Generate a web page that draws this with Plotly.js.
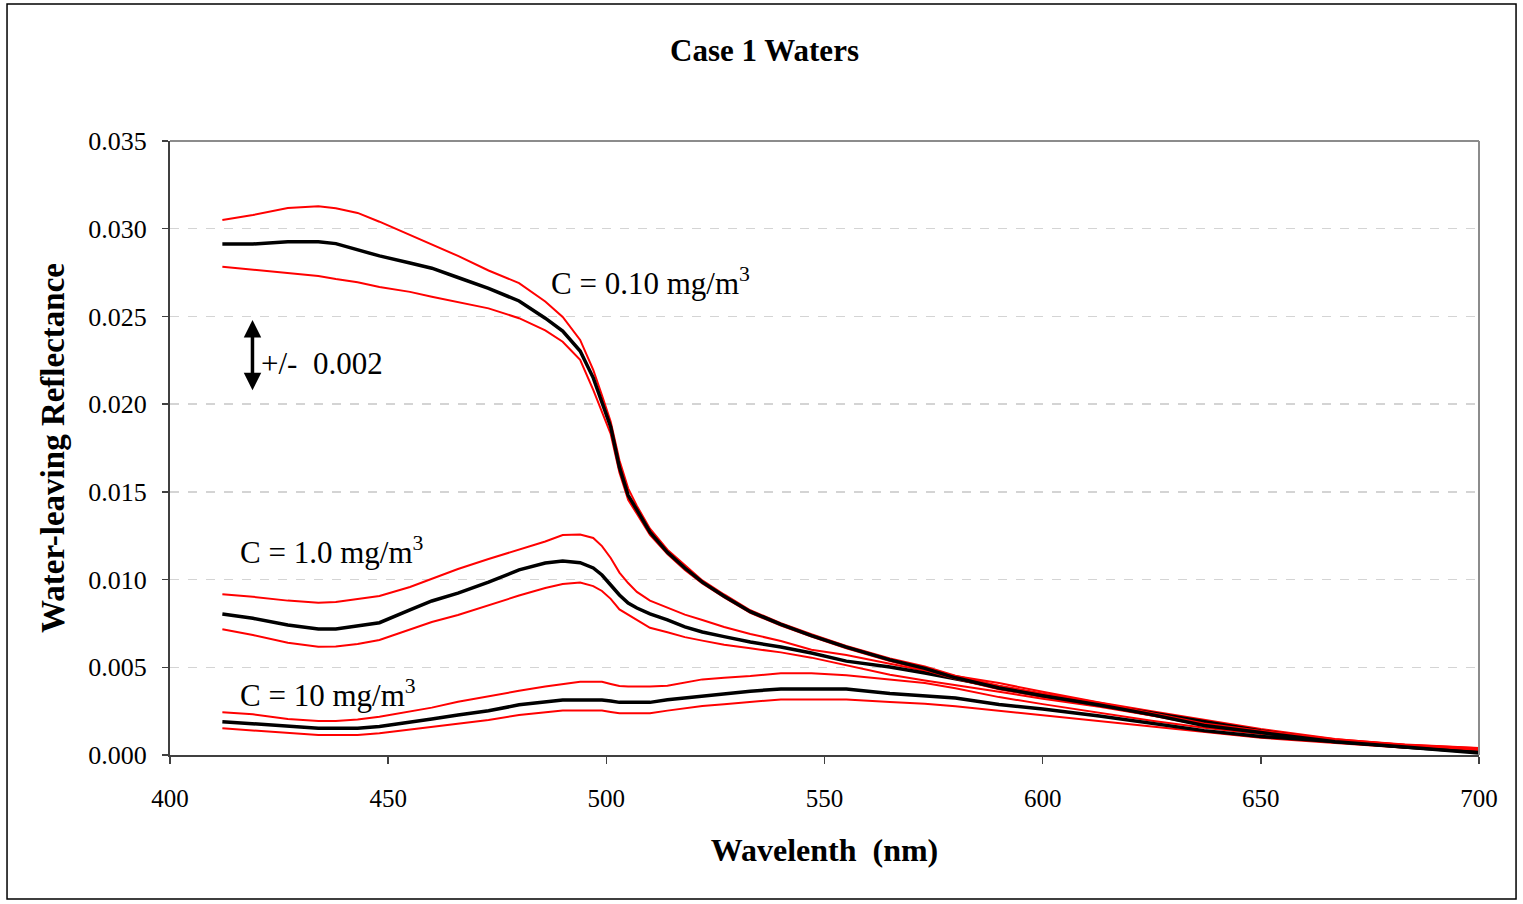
<!DOCTYPE html>
<html>
<head>
<meta charset="utf-8">
<script src="https://cdn.plot.ly/plotly-3.0.1.min.js"></script>
<style>html,body{margin:0;padding:0;background:#fff;}#chart{width:1523px;height:904px;}</style>
</head>
<body>
<div id="chart"></div>
<script>
// Wavelength grid (nm)
const wavelength = [412, 419, 427, 434, 438, 443, 448, 455, 460, 466, 473, 480, 486, 490, 494, 497, 499, 501, 503, 505, 507, 510, 514, 518, 522, 527, 533, 540, 547, 555, 565, 573, 580, 590, 600, 613, 625, 637, 650, 667, 683, 700];

// C = 0.10 mg/m3
const c010_mean = [0.02913, 0.02913, 0.02926, 0.02926, 0.02915, 0.02880, 0.02845, 0.02805, 0.02775, 0.02722, 0.02660, 0.02588, 0.02490, 0.02417, 0.02303, 0.02150, 0.02006, 0.01870, 0.01640, 0.01480, 0.01397, 0.01270, 0.01155, 0.01066, 0.00985, 0.00905, 0.00817, 0.00745, 0.00680, 0.00615, 0.00542, 0.00494, 0.00440, 0.00382, 0.00338, 0.00285, 0.00230, 0.00168, 0.00128, 0.00076, 0.00045, 0.00012];
const c010_upper = [0.03050, 0.03078, 0.03118, 0.03128, 0.03116, 0.03090, 0.03040, 0.02965, 0.02910, 0.02845, 0.02762, 0.02690, 0.02585, 0.02497, 0.02366, 0.02195, 0.02050, 0.01900, 0.01680, 0.01520, 0.01420, 0.01290, 0.01170, 0.01080, 0.00995, 0.00915, 0.00825, 0.00752, 0.00688, 0.00622, 0.00550, 0.00505, 0.00452, 0.00395, 0.00350, 0.00298, 0.00240, 0.00180, 0.00138, 0.00090, 0.00060, 0.00040];
const c010_lower = [0.02783, 0.02765, 0.02748, 0.02730, 0.02713, 0.02695, 0.02668, 0.02640, 0.02612, 0.02580, 0.02546, 0.02490, 0.02420, 0.02356, 0.02252, 0.02081, 0.01960, 0.01830, 0.01610, 0.01455, 0.01375, 0.01255, 0.01145, 0.01055, 0.00978, 0.00898, 0.00810, 0.00738, 0.00675, 0.00608, 0.00535, 0.00485, 0.00435, 0.00375, 0.00330, 0.00282, 0.00225, 0.00168, 0.00130, 0.00085, 0.00055, 0.00030];

// C = 1.0 mg/m3
const c1_mean = [0.00804, 0.00779, 0.00741, 0.00718, 0.00718, 0.00735, 0.00754, 0.00827, 0.00878, 0.00923, 0.00986, 0.01055, 0.01094, 0.01106, 0.01096, 0.01066, 0.01026, 0.00969, 0.00912, 0.00866, 0.00838, 0.00804, 0.00770, 0.00730, 0.00701, 0.00675, 0.00644, 0.00616, 0.00581, 0.00535, 0.00502, 0.00467, 0.00433, 0.00388, 0.00342, 0.00285, 0.00239, 0.00188, 0.00137, 0.00080, 0.00046, 0.00017];
const c1_upper = [0.00916, 0.00902, 0.00880, 0.00868, 0.00872, 0.00889, 0.00906, 0.00958, 0.01003, 0.01060, 0.01117, 0.01169, 0.01217, 0.01254, 0.01257, 0.01237, 0.01191, 0.01123, 0.01040, 0.00980, 0.00930, 0.00880, 0.00840, 0.00800, 0.00770, 0.00730, 0.00690, 0.00650, 0.00600, 0.00570, 0.00520, 0.00480, 0.00450, 0.00410, 0.00360, 0.00300, 0.00250, 0.00200, 0.00148, 0.00091, 0.00057, 0.00034];
const c1_lower = [0.00717, 0.00684, 0.00640, 0.00617, 0.00618, 0.00633, 0.00656, 0.00713, 0.00758, 0.00798, 0.00855, 0.00909, 0.00952, 0.00975, 0.00983, 0.00963, 0.00935, 0.00890, 0.00830, 0.00800, 0.00770, 0.00725, 0.00700, 0.00672, 0.00652, 0.00628, 0.00608, 0.00585, 0.00555, 0.00510, 0.00458, 0.00425, 0.00400, 0.00361, 0.00320, 0.00275, 0.00225, 0.00180, 0.00132, 0.00085, 0.00055, 0.00035];

// C = 10 mg/m3
const c10_mean = [0.00190, 0.00177, 0.00161, 0.00152, 0.00152, 0.00152, 0.00162, 0.00185, 0.00205, 0.00228, 0.00252, 0.00286, 0.00305, 0.00314, 0.00314, 0.00314, 0.00314, 0.00308, 0.00300, 0.00300, 0.00300, 0.00300, 0.00315, 0.00326, 0.00337, 0.00350, 0.00364, 0.00376, 0.00376, 0.00376, 0.00350, 0.00338, 0.00325, 0.00288, 0.00262, 0.00222, 0.00180, 0.00139, 0.00106, 0.00076, 0.00046, 0.00019];
const c10_upper = [0.00243, 0.00232, 0.00205, 0.00194, 0.00194, 0.00203, 0.00218, 0.00248, 0.00270, 0.00303, 0.00335, 0.00366, 0.00390, 0.00402, 0.00418, 0.00418, 0.00418, 0.00405, 0.00393, 0.00390, 0.00390, 0.00390, 0.00395, 0.00415, 0.00431, 0.00440, 0.00450, 0.00466, 0.00466, 0.00455, 0.00430, 0.00410, 0.00380, 0.00330, 0.00290, 0.00240, 0.00195, 0.00155, 0.00120, 0.00085, 0.00058, 0.00038];
const c10_lower = [0.00152, 0.00139, 0.00124, 0.00114, 0.00114, 0.00114, 0.00124, 0.00145, 0.00163, 0.00177, 0.00200, 0.00228, 0.00245, 0.00253, 0.00253, 0.00253, 0.00253, 0.00245, 0.00238, 0.00238, 0.00238, 0.00238, 0.00253, 0.00268, 0.00279, 0.00290, 0.00302, 0.00317, 0.00317, 0.00317, 0.00302, 0.00292, 0.00278, 0.00252, 0.00225, 0.00190, 0.00160, 0.00130, 0.00098, 0.00068, 0.00042, 0.00022];

const xTicks = [400, 450, 500, 550, 600, 650, 700];
const yTicks = [0.000, 0.005, 0.010, 0.015, 0.020, 0.025, 0.030, 0.035];

const SERIF = "Liberation Serif, Times New Roman, serif";

function redLine(y, name) {
  return {x: wavelength, y: y, name: name, type: 'scatter', mode: 'lines',
          line: {color: '#ff0000', width: 2}, showlegend: false, hoverinfo: 'x+y'};
}
function blackLine(y, name) {
  return {x: wavelength, y: y, name: name, type: 'scatter', mode: 'lines',
          line: {color: '#000000', width: 3.5}, showlegend: false, hoverinfo: 'x+y'};
}

const data = [
  redLine(c10_upper, 'C=10 +0.002'), redLine(c10_lower, 'C=10 -0.002'), blackLine(c10_mean, 'C=10'),
  redLine(c1_upper, 'C=1.0 +0.002'), redLine(c1_lower, 'C=1.0 -0.002'), blackLine(c1_mean, 'C=1.0'),
  redLine(c010_upper, 'C=0.10 +0.002'), redLine(c010_lower, 'C=0.10 -0.002'), blackLine(c010_mean, 'C=0.10')
];

const layout = {
  width: 1523, height: 904,
  paper_bgcolor: '#ffffff', plot_bgcolor: '#ffffff',
  margin: {l: 170, r: 44, t: 141, b: 149},
  font: {family: SERIF, color: '#000'},
  title: {text: '<b>Case 1 Waters</b>', font: {family: SERIF, size: 31, color: '#000'},
          x: 0.502, xref: 'container', xanchor: 'center', y: 0.944, yref: 'container', yanchor: 'middle'},
  xaxis: {
    range: [400, 700], tickvals: xTicks, ticktext: xTicks.map(String),
    showgrid: false, zeroline: false,
    showline: true, linecolor: '#404040', linewidth: 2,
    ticks: 'outside', ticklen: 7, tickwidth: 1.5, tickcolor: '#404040',
    tickfont: {family: SERIF, size: 25, color: '#000'}, ticklabelstandoff: 13,
    title: {text: '<b>Wavelenth\u00A0\u00A0(nm)</b>', font: {family: SERIF, size: 32, color: '#000'}, standoff: 28}
  },
  yaxis: {
    range: [0, 0.035], tickvals: yTicks, ticktext: yTicks.map(v => v.toFixed(3)),
    showgrid: true, gridcolor: '#d4d4d4', griddash: 'dash', gridwidth: 1.5, zeroline: false,
    showline: true, linecolor: '#404040', linewidth: 2,
    ticks: 'outside', ticklen: 6, tickwidth: 1.5, tickcolor: '#404040',
    tickfont: {family: SERIF, size: 26, color: '#000'}, ticklabelstandoff: 10,
    title: {text: '<b>Water-leaving Reflectance</b>', font: {family: SERIF, size: 33, color: '#000'}, standoff: 14}
  },
  shapes: [
    {type: 'line', xref: 'paper', yref: 'paper', x0: 0, x1: 1, y0: 1, y1: 1, line: {color: '#8c8c8c', width: 2}},
    {type: 'line', xref: 'paper', yref: 'paper', x0: 1, x1: 1, y0: 0, y1: 1, line: {color: '#8c8c8c', width: 2}},
    {type: 'rect', xref: 'paper', yref: 'paper', x0: -0.1245, x1: 1.0283, y0: -0.2345, y1: 1.2231,
     line: {color: '#000', width: 1.5}, fillcolor: 'rgba(0,0,0,0)', layer: 'below'}
  ],
  annotations: [
    {x: 486.9, y: 0.0270, xref: 'x', yref: 'y', text: 'C = 0.10 mg/m<sup>3</sup>', showarrow: false,
     xanchor: 'left', yanchor: 'middle', font: {family: SERIF, size: 31, color: '#000'}},
    {x: 415.6, y: 0.01163, xref: 'x', yref: 'y', text: 'C = 1.0 mg/m<sup>3</sup>', showarrow: false,
     xanchor: 'left', yanchor: 'middle', font: {family: SERIF, size: 31, color: '#000'}},
    {x: 415.6, y: 0.00353, xref: 'x', yref: 'y', text: 'C = 10 mg/m<sup>3</sup>', showarrow: false,
     xanchor: 'left', yanchor: 'middle', font: {family: SERIF, size: 31, color: '#000'}},
    {x: 420.4, y: 0.0223, xref: 'x', yref: 'y', text: '+/-\u00A0\u00A00.002', showarrow: false,
     xanchor: 'left', yanchor: 'middle', font: {family: SERIF, size: 31, color: '#000'}},
    {x: 418.9, y: 0.0248, ax: 418.9, ay: 0.0207, xref: 'x', yref: 'y', axref: 'x', ayref: 'y',
     text: '', showarrow: true, arrowhead: 2, startarrowhead: 2, arrowside: 'end+start',
     arrowsize: 1, startarrowsize: 1, arrowwidth: 3.5, arrowcolor: '#000'}
  ]
};

Plotly.newPlot('chart', data, layout, {displayModeBar: false, staticPlot: true});
</script>
</body>
</html>
